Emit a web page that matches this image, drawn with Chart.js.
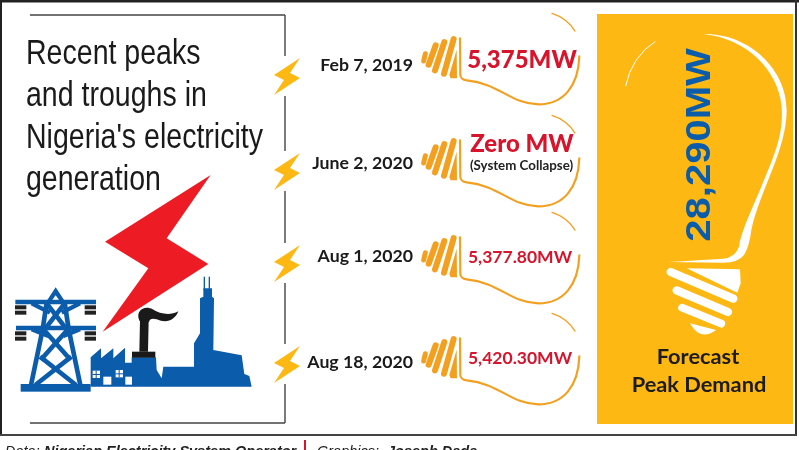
<!DOCTYPE html>
<html>
<head>
<meta charset="utf-8">
<title>Nigeria electricity peaks and troughs</title>
<script src="https://cdn.jsdelivr.net/npm/chart.js@4/dist/chart.umd.js"></script>
<style>
  html, body { margin: 0; background: #fff; }
  canvas { display: block; }
</style>
</head>
<body>
<canvas id="chart" width="799" height="450"></canvas>
<script>
const dates = ["Feb 7, 2019", "June 2, 2020", "Aug 1, 2020", "Aug 18, 2020"]
const peaks = [5375, 0, 5377.8, 5420.3]
const peakLabels = ["5,375MW", "Zero MW", "5,377.80MW", "5,420.30MW"]
const peakNotes = ["", "(System Collapse)", "", ""]
const titleLines = ["Recent peaks", "and troughs in", "Nigeria's electricity", "generation"]
const forecastPeak = "28,290MW"
const forecastLines = ["Forecast", "Peak Demand"]
const footerParts = ["Data: ", "Nigerian Electricity System Operator", "Graphics: ", "Joseph Dada"]

// the rows in the artwork are hand placed, so nudge each one off the even grid
const bulbShift = [0, 2, -1, 0]
const dateShift = [7, 5, -2, 4]
const boltShift = [18, 13, 5, 6]

const ORANGE = "#f3a021"
const YELLOW = "#fdb813"
const RED = "#d7142b"
const BLUE = "#0b5cab"

function poly(ctx, pts) {
  ctx.beginPath()
  pts.forEach((p, i) => (i ? ctx.lineTo(p[0], p[1]) : ctx.moveTo(p[0], p[1])))
  ctx.closePath()
  ctx.fill()
}

function seg(ctx, x1, y1, x2, y2) {
  ctx.beginPath()
  ctx.moveTo(x1, y1)
  ctx.lineTo(x2, y2)
  ctx.stroke()
}

function text(ctx, str, x, y, font, color, align) {
  ctx.font = font
  ctx.fillStyle = color
  ctx.textAlign = align || "left"
  ctx.textBaseline = "middle"
  ctx.fillText(str, x, y)
}

function drawFrame(ctx) {
  ctx.strokeStyle = "#222"
  ctx.lineWidth = 3
  seg(ctx, 0, 1, 799, 1)
  ctx.lineWidth = 2
  seg(ctx, 1, 0, 1, 435)
  ctx.strokeStyle = "#333"
  seg(ctx, 796, 0, 796, 435)
  ctx.strokeStyle = "#444"
  seg(ctx, 0, 435, 797, 435)

  ctx.strokeStyle = "#444"
  ctx.lineWidth = 1.4
  seg(ctx, 30, 15, 285, 15)
  seg(ctx, 285, 15, 285, 423)
  seg(ctx, 30, 423, 285, 423)
}

function drawBolt(ctx, x, y) {
  ctx.fillStyle = "#fff"
  ctx.fillRect(x - 4, y - 20, 8, 40)
  ctx.fillStyle = YELLOW
  poly(ctx, [[x + 13, y - 18], [x - 13, y - 1], [x - 3, y + 4], [x - 13, y + 19], [x + 13, y + 2], [x + 3, y - 3]])
}

// one small bulb, sized in 3x zoom units around the middle of the fins
function drawBulb(ctx, y) {
  ctx.save()
  ctx.translate(270, y - 58.3)
  ctx.scale(1 / 3, 1 / 3)
  ctx.lineCap = "round"
  ctx.strokeStyle = ORANGE
  ctx.fillStyle = ORANGE
  ctx.lineWidth = 15
  seg(ctx, 466, 162, 461, 184)
  ctx.lineWidth = 18
  seg(ctx, 497, 137, 476, 195)
  seg(ctx, 523, 127, 495, 212)
  seg(ctx, 551, 118, 522, 222)
  poly(ctx, [[560, 150], [561, 236], [542, 236], [538, 226]])
  ctx.lineWidth = 6.5
  ctx.beginPath()
  ctx.moveTo(570, 116)
  ctx.lineTo(571, 226)
  ctx.quadraticCurveTo(572, 240, 590, 242)
  ctx.bezierCurveTo(690, 252, 720, 312, 805, 314)
  ctx.bezierCurveTo(880, 314, 925, 260, 928, 170)
  ctx.stroke()
  ctx.lineWidth = 4
  ctx.beginPath()
  ctx.moveTo(846, 41)
  ctx.quadraticCurveTo(890, 55, 915, 94)
  ctx.stroke()
  ctx.restore()
}

function drawPanel(ctx) {
  ctx.fillStyle = YELLOW
  ctx.fillRect(597, 14, 196, 410)

  ctx.save()
  ctx.translate(590, 0)
  ctx.scale(1 / 3, 1 / 3)
  ctx.fillStyle = "#fff"
  ctx.strokeStyle = "#fff"
  // outline of the big bulb, thicker along the shoulder
  ctx.beginPath()
  ctx.moveTo(340, 102)
  ctx.bezierCurveTo(480, 100, 590, 210, 590, 330)
  ctx.bezierCurveTo(590, 450, 510, 570, 484, 690)
  ctx.quadraticCurveTo(478, 740, 462, 765)
  ctx.quadraticCurveTo(445, 788, 400, 788)
  ctx.lineTo(235, 786)
  ctx.quadraticCurveTo(330, 780, 400, 776)
  ctx.quadraticCurveTo(435, 772, 447, 740)
  ctx.bezierCurveTo(452, 700, 480, 640, 510, 570)
  ctx.bezierCurveTo(560, 450, 580, 400, 575, 320)
  ctx.bezierCurveTo(565, 210, 470, 115, 340, 102)
  ctx.fill()
  ctx.lineCap = "round"
  ctx.lineWidth = 3
  ctx.beginPath()
  ctx.moveTo(195, 125)
  ctx.quadraticCurveTo(125, 170, 107, 258)
  ctx.stroke()
  // screw thread of the base
  ctx.lineWidth = 25
  seg(ctx, 242, 816, 430, 896)
  seg(ctx, 260, 871, 414, 936)
  ctx.lineWidth = 23
  seg(ctx, 276, 923, 394, 971)
  poly(ctx, [[290, 805], [450, 808], [452, 850], [442, 878]])
  ctx.beginPath()
  ctx.moveTo(300, 970)
  ctx.quadraticCurveTo(330, 1025, 378, 990)
  ctx.closePath()
  ctx.fill()
  ctx.restore()

  ctx.save()
  ctx.translate(700, 145)
  ctx.rotate(-Math.PI / 2)
  ctx.scale(1, 0.88)
  text(ctx, forecastPeak, 0, 0, "bold 40px 'Liberation Sans'", BLUE, "center")
  ctx.restore()

  text(ctx, forecastLines[0], 698, 357, "bold 21.8px Lato", "#1c1c1c", "center")
  text(ctx, forecastLines[1], 699, 385, "bold 21.8px Lato", "#1c1c1c", "center")
}

function drawIndustry(ctx) {
  ctx.save()
  ctx.translate(0, 170)
  ctx.scale(1 / 3, 1 / 3)

  ctx.fillStyle = "#ed1c24"
  poly(ctx, [[632, 15], [315, 215], [445, 295], [308, 485], [625, 282], [500, 205]])

  // pylon
  ctx.strokeStyle = BLUE
  ctx.fillStyle = BLUE
  ctx.lineCap = "butt"
  ctx.lineWidth = 14
  poly(ctx, [[167, 352], [200, 402], [134, 402]])
  ctx.fillStyle = "#fff"
  poly(ctx, [[167, 376], [180, 394], [154, 394]])
  ctx.fillStyle = BLUE
  seg(ctx, 140, 398, 128, 478)
  seg(ctx, 194, 398, 206, 478)
  seg(ctx, 128, 478, 92, 650)
  seg(ctx, 206, 478, 242, 650)
  seg(ctx, 140, 400, 200, 478)
  seg(ctx, 194, 400, 134, 478)
  seg(ctx, 132, 480, 212, 570)
  seg(ctx, 202, 480, 122, 570)
  seg(ctx, 120, 560, 228, 645)
  seg(ctx, 214, 560, 106, 645)
  ctx.lineWidth = 13
  seg(ctx, 46, 396, 288, 396)
  seg(ctx, 48, 474, 288, 474)
  seg(ctx, 95, 400, 150, 428)
  seg(ctx, 240, 400, 185, 428)
  seg(ctx, 95, 478, 145, 498)
  seg(ctx, 240, 478, 190, 498)
  ctx.fillRect(62, 642, 210, 23)

  ctx.fillStyle = "#222"
  ;[[45, 406], [254, 406], [45, 484], [254, 484]].forEach(([x, y]) => {
    ctx.fillRect(x, y, 34, 12)
    ctx.fillRect(x, y + 16, 34, 12)
  })

  // factory blocks
  ctx.fillStyle = BLUE
  poly(ctx, [
    [272, 650], [272, 562], [303, 535], [303, 565], [340, 535], [340, 565], [375, 533], [375, 578],
    [395, 578], [395, 562], [468, 562], [470, 600], [485, 625], [490, 590], [582, 590],
    [582, 520], [600, 490], [600, 385], [610, 380], [610, 355], [636, 355], [636, 380], [642, 385],
    [640, 540], [725, 556], [733, 612], [748, 618], [755, 650]
  ])
  ctx.fillRect(611, 320, 4, 40)
  ctx.fillRect(626, 320, 4, 40)

  // chimney and smoke
  ctx.fillStyle = "#1a1a1a"
  ctx.fillRect(396, 545, 70, 18)
  poly(ctx, [[420, 450], [446, 450], [444, 545], [418, 545]])
  ctx.beginPath()
  ctx.moveTo(418, 452)
  ctx.bezierCurveTo(405, 420, 435, 405, 458, 418)
  ctx.bezierCurveTo(480, 432, 510, 438, 535, 424)
  ctx.bezierCurveTo(525, 450, 500, 462, 470, 448)
  ctx.quadraticCurveTo(450, 442, 447, 456)
  ctx.closePath()
  ctx.fill()

  ctx.fillStyle = "#fff"
  ;[[278, 602, 22, 22], [310, 620, 24, 24], [347, 600, 22, 22], [376, 620, 20, 24]].forEach(([x, y, w, h]) => {
    ctx.fillRect(x, y, w, h)
  })
  ctx.fillStyle = BLUE
  ctx.fillRect(287, 602, 3, 22)
  ctx.fillRect(278, 612, 22, 3)
  ctx.fillRect(356, 600, 3, 22)
  ctx.fillRect(347, 610, 22, 3)
  ctx.restore()
}

// no narrow face is installed, so squeeze the sans to the width of the longest line
function drawTitle(ctx) {
  const font = "35px 'Liberation Sans'"
  ctx.font = font
  const squeeze = 237 / ctx.measureText(titleLines[2]).width
  ctx.save()
  ctx.translate(26, 0)
  ctx.scale(squeeze, 1)
  titleLines.forEach((line, i) => {
    text(ctx, line, 0, 54 + i * 42, font, "#1a1a1a", "left")
  })
  ctx.restore()
}

function drawFooter(ctx) {
  const plain = "italic 14.5px 'Liberation Sans'"
  const bold = "italic bold 14.5px 'Liberation Sans'"
  ctx.textBaseline = "alphabetic"
  ctx.textAlign = "left"
  ctx.fillStyle = "#222"
  ctx.font = plain
  ctx.fillText(footerParts[0], 5, 456)
  ctx.fillText(footerParts[2], 317, 456)
  ctx.font = bold
  ctx.fillText(footerParts[1], 44, 456)
  ctx.fillText(footerParts[3], 387, 456)
  ctx.fillStyle = "#d7142b"
  ctx.fillRect(304, 440, 2, 10)
}

const artwork = {
  id: "artwork",
  // tick labels follow the hand placed rows too
  afterUpdate(chart) {
    chart.scales.y.getLabelItems(chart.chartArea).forEach((item, i) => {
      item.options.translation[1] += dateShift[i]
    })
  },
  afterDraw(chart) {
    const ctx = chart.ctx
    const y = chart.scales.y
    ctx.save()
    drawFrame(ctx)
    drawTitle(ctx)
    drawIndustry(ctx)
    dates.forEach((d, i) => {
      const row = y.getPixelForValue(i)
      drawBolt(ctx, 287, row + boltShift[i])
      drawBulb(ctx, row + bulbShift[i])
      if (peakNotes[i]) {
        text(ctx, peakLabels[i], 522, row - 14, "900 24px Lato", RED, "center")
        text(ctx, peakNotes[i], 521.5, row + 8, "bold 13.3px Lato", "#222", "center")
      } else if (i === 0) {
        text(ctx, peakLabels[i], 522, row + 2, "900 24px Lato", RED, "center")
      } else {
        text(ctx, peakLabels[i], 520, row + bulbShift[i], "bold 17.5px Lato", RED, "center")
      }
    })
    drawPanel(ctx)
    drawFooter(ctx)
    ctx.restore()
  }
}

new Chart(document.getElementById("chart"), {
  type: "bar",
  data: {
    labels: dates,
    datasets: [{ data: peaks, backgroundColor: "rgba(0,0,0,0)", borderWidth: 0 }]
  },
  plugins: [artwork],
  options: {
    indexAxis: "y",
    responsive: false,
    animation: false,
    layout: { padding: { top: 8, bottom: 42, left: 0, right: 220 } },
    plugins: { legend: { display: false }, tooltip: { enabled: false }, title: { display: false } },
    scales: {
      x: { display: false, min: 0, max: 6000 },
      y: {
        afterFit: (scale) => {
          scale.width = 420
          scale.paddingTop = 0
          scale.paddingBottom = 0
        },
        border: { display: false },
        grid: { display: false, drawTicks: false },
        ticks: {
          padding: 7,
          color: "#1a1a1a",
          font: { family: "Lato", weight: "bold", size: 17.7 }
        }
      }
    }
  }
})
</script>
</body>
</html>
